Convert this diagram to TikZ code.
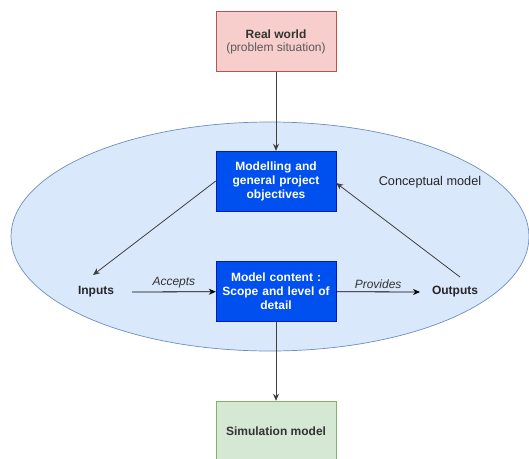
\documentclass[tikz,border=0pt]{standalone}
\usepackage{fontspec}
\setmainfont{Liberation Sans}
\usetikzlibrary{arrows.meta,shapes.geometric}
\definecolor{redfill}{HTML}{F8CECC}
\definecolor{redline}{HTML}{B85450}
\definecolor{bluefill}{HTML}{0050EF}
\definecolor{blueline}{HTML}{001DBC}
\definecolor{ellfill}{HTML}{DAE8FC}
\definecolor{ellline}{HTML}{6C8EBF}
\definecolor{greenfill}{HTML}{D5E8D4}
\definecolor{greenline}{HTML}{82B366}
\definecolor{txt}{HTML}{333333}
\newcommand{\diafont}{\fontsize{12}{14}\selectfont}
\tikzset{
  box/.style={rectangle, minimum width=120pt, minimum height=60pt, align=center,
    font=\diafont\bfseries, inner sep=2pt},
  realbox/.style={box, fill=redfill, draw=redline, text=txt},
  bluebox/.style={box, fill=bluefill, draw=blueline, text=white, text width=112pt},
  simbox/.style={box, fill=greenfill, draw=greenline, text=txt},
  plain/.style={font=\diafont\bfseries, text=black!85},
  edgelabel/.style={font=\diafont\itshape, text=txt},
  link/.style={line width=0.8pt, draw=black!75, -{Stealth[length=7pt,width=6pt]}},
  hlink/.style={line width=0.8pt, draw=black, -{Stealth[length=7pt,width=6pt]}}
}
\begin{document}
\begin{tikzpicture}[x=1pt,y=-1pt]
  \useasboundingbox (0,0) rectangle (529,458);
  % conceptual model region
  \node[ellipse, minimum width=518pt, minimum height=229pt, fill=ellfill, draw=ellline, line width=0.7pt] (cm) at (270,236.5) {};
  \node[font=\fontsize{12.7}{14}\selectfont, text=black!85] (cmlabel) at (430,182) {Conceptual model};

  \node[realbox] (real) at (276,41.5) {Real world\\[-1pt]{\mdseries\color{black!65}(problem situation)}};
  \node[bluebox] (obj) at (276,181) {Modelling and\\general project\\objectives};
  \node[bluebox] (content) at (276,291.5) {Model content :\\Scope and level of\\detail};
  \node[simbox] (sim) at (276,431) {Simulation model};

  \node[plain] (inputs) at (96,292) {Inputs};
  \node[plain] (outputs) at (455,292) {Outputs};
  \coordinate (inend) at (93,275);
  \coordinate (outstart) at (460,277);
  \coordinate (inl) at (132,292);
  \coordinate (outr) at (420,292);

  \draw[link] (real) -- (obj);
  \draw[link] (content) -- (sim);
  \draw[link] (obj.west |- 0,181) -- (inend);
  \draw[link] (outstart) -- (obj.east |- 0,183);
  \draw[hlink] (inl) -- node[edgelabel, above=0pt] (acc) {Accepts} (content);
  \draw[hlink] (content) -- node[edgelabel, above=0pt] (prov) {Provides} (outr);
\end{tikzpicture}
\end{document}
